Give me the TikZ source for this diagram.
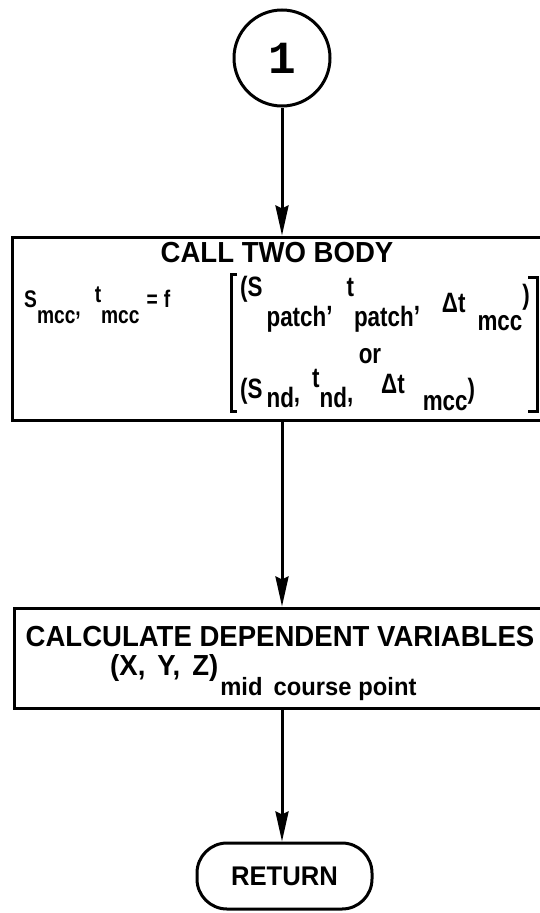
\documentclass[tikz,border=0pt]{standalone}
\usepackage{fontspec}
\usetikzlibrary{arrows.meta}
\newfontfamily\hd{Liberation Sans}[FakeStretch=0.95]
\newfontfamily\fm{Liberation Sans}[FakeStretch=0.8]
\newfontfamily\onef{Liberation Mono}
\newcommand\lo[2]{\raisebox{-#1pt}{#2}}
\begin{document}
\begin{tikzpicture}[x=1pt,y=-1pt,
  ln/.style={line width=3pt},
  arr/.style={ln,-{Stealth[length=30pt,width=13pt,inset=3pt]}},
  boxx/.style={draw,ln,rectangle,inner sep=0pt},
  ttl/.style={font=\hd\bfseries\fontsize{29}{29}\selectfont,inner sep=0pt},
  frma/.style={font=\fm\bfseries\fontsize{24}{24}\selectfont,inner sep=0pt,anchor=base west},
  frm/.style={font=\fm\bfseries\fontsize{28}{28}\selectfont,inner sep=0pt,anchor=base west}]
\clip (0,0) rectangle (540,913);
\fill[white] (0,0) rectangle (540,913);
% start connector
\node[circle,draw,ln,minimum size=96pt,inner sep=0pt,font=\onef\bfseries\fontsize{46}{46}\selectfont] (c1) at (282,58) {1};
% box 1
\node[boxx,minimum width=548pt,minimum height=183pt] (b1) at (286,328.5) {};
\node[ttl,anchor=base] (t1) at (277,262) {CALL TWO BODY};
\node[frma] (fa) at (24,307) {S\lo{16}{mcc}\lo{8}{,}\hspace{14pt}\raisebox{5pt}{t}\lo{16}{mcc}\hspace{7pt}=\hspace{6pt}f};
\node[frm] (fb) at (240,296) {(S\hspace{4pt}\lo{30}{patch}\lo{14}{,}\hspace{14pt}t\lo{30}{patch}\lo{14}{,}\hspace{22pt}\lo{16}{Δt\hspace{12pt}\lo{18}{mcc}}\lo{8}{)}};
\node[frm,anchor=base] (fc) at (370,363) {or};
\node[frm] (fd) at (240,398) {(S\hspace{4pt}\lo{9}{nd}\lo{4}{,}\hspace{12pt}\raisebox{11pt}{t}\lo{9}{nd}\lo{4}{,}\hspace{28pt}\raisebox{5pt}{Δt}\hspace{18pt}\lo{12}{mcc})};
\draw[ln] (237,274) -- (231,274) -- (231,411) -- (237,411);
\draw[ln] (528,277) -- (537,277) -- (537,411) -- (528,411);
% box 2
\node[boxx,minimum width=546pt,minimum height=100pt] (b2) at (287,658) {};
\node[ttl,anchor=base] (t2) at (280,646) {CALCULATE DEPENDENT VARIABLES};
\node[ttl,anchor=base west] (t3) at (110,675) {(X,\hspace{12pt}Y,\hspace{12pt}Z)\hspace{2pt}\lo{20}{\fontsize{25}{25}\selectfont mid\hspace{11pt}course\hspace{7pt}point}};
% return
\node[draw,ln,rectangle,rounded corners=30pt,minimum width=175pt,minimum height=66pt,inner sep=0pt,font=\hd\bfseries\fontsize{27}{27}\selectfont] (ret) at (284.5,876) {RETURN};
% connectors
\draw[arr] (c1.south) -- (c1.south |- b1.north);
\draw[arr] (c1 |- b1.south) -- (c1 |- b2.north);
\draw[arr] (c1 |- b2.south) -- (c1 |- ret.north);
\end{tikzpicture}
\end{document}
